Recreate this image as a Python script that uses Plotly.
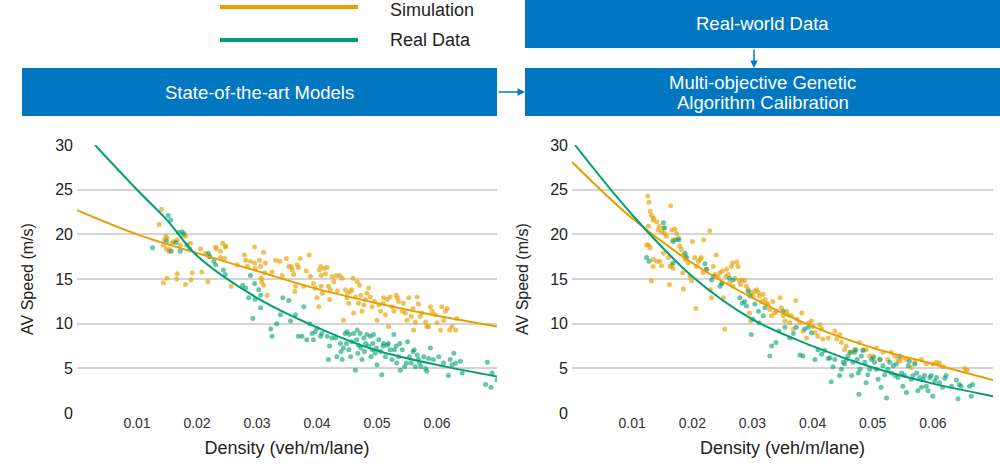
import plotly.graph_objects as go
from plotly.subplots import make_subplots

# left panel: state-of-the-art models
left_sim_x = [0.0141, 0.0137, 0.0148, 0.0146, 0.0150, 0.0144, 0.0149, 0.0154, 0.0153, 0.0158, 0.0161, 0.0167, 0.0177, 0.0181, 0.0189, 0.0172,
              0.0144, 0.0150, 0.0166, 0.0167, 0.0181, 0.0190, 0.0192, 0.0206, 0.0208, 0.0214, 0.0218, 0.0221, 0.0231, 0.0232, 0.0239, 0.0239,
              0.0243, 0.0247, 0.0246, 0.0248, 0.0257, 0.0267, 0.0279, 0.0281, 0.0284, 0.0289, 0.0296, 0.0296, 0.0297, 0.0304, 0.0306, 0.0311,
              0.0314, 0.0313, 0.0317, 0.0311, 0.0308, 0.0307, 0.0325, 0.0331, 0.0338, 0.0342, 0.0349, 0.0353, 0.0357, 0.0359, 0.0361, 0.0364,
              0.0363, 0.0367, 0.0369, 0.0372, 0.0378, 0.0382, 0.0387, 0.0389, 0.0394, 0.0397, 0.0400, 0.0403, 0.0404, 0.0406, 0.0407, 0.0407,
              0.0409, 0.0412, 0.0414, 0.0417, 0.0419, 0.0421, 0.0422, 0.0425, 0.0428, 0.0432, 0.0434, 0.0438, 0.0442, 0.0444, 0.0447, 0.0450,
              0.0451, 0.0453, 0.0456, 0.0458, 0.0460, 0.0461, 0.0464, 0.0467, 0.0469, 0.0471, 0.0473, 0.0475, 0.0478, 0.0481, 0.0483, 0.0486,
              0.0489, 0.0492, 0.0496, 0.0500, 0.0503, 0.0506, 0.0510, 0.0511, 0.0514, 0.0517, 0.0519, 0.0522, 0.0525, 0.0528, 0.0532, 0.0534,
              0.0536, 0.0542, 0.0544, 0.0547, 0.0550, 0.0553, 0.0557, 0.0560, 0.0561, 0.0564, 0.0567, 0.0569, 0.0572, 0.0575, 0.0581, 0.0583,
              0.0586, 0.0589, 0.0592, 0.0597, 0.0600, 0.0606, 0.0608, 0.0611, 0.0614, 0.0617, 0.0621, 0.0625, 0.0631, 0.0633]
left_sim_y = [22.8, 21.1, 19.8, 19.4, 19.6, 18.8, 18.4, 18.3, 18.1, 19.0, 19.2, 19.4, 19.9, 19.8, 19.0, 18.8,
              14.6, 15.1, 15.0, 15.6, 14.4, 14.9, 15.7, 18.4, 15.8, 17.9, 14.7, 17.5, 18.6, 18.4, 18.1, 17.4,
              19.0, 18.6, 17.3, 18.7, 14.2, 16.6, 17.7, 17.1, 16.4, 17.0, 18.6, 16.8, 16.2, 17.1, 16.4, 18.0,
              16.8, 15.7, 13.2, 14.3, 14.7, 15.1, 15.8, 17.1, 17.0, 15.4, 17.3, 16.4, 16.4, 16.0, 15.5, 14.2,
              13.6, 16.6, 16.3, 17.3, 14.2, 15.9, 17.7, 15.3, 14.5, 14.0, 12.9, 11.9, 16.0, 16.4, 15.4, 14.2,
              13.4, 16.2, 15.6, 16.3, 14.2, 12.7, 13.8, 15.3, 14.7, 15.4, 13.7, 15.4, 15.1, 10.4, 13.8, 12.9,
              13.4, 12.3, 13.6, 13.8, 15.1, 11.2, 13.0, 14.7, 12.3, 14.3, 13.2, 11.4, 12.1, 12.7, 13.4, 14.0,
              13.0, 11.9, 12.5, 10.4, 12.1, 11.4, 12.3, 12.9, 11.0, 12.7, 9.7, 13.0, 11.9, 11.4, 13.2, 12.9,
              12.5, 11.4, 12.3, 11.2, 10.4, 12.9, 10.8, 11.7, 9.3, 10.2, 13.0, 12.2, 10.8, 11.2, 10.2, 9.7,
              9.7, 11.9, 11.4, 11.0, 10.1, 9.3, 11.9, 10.4, 11.4, 11.7, 9.3, 9.7, 9.3, 10.6]

left_real_x = [0.0126, 0.0152, 0.0156, 0.0149, 0.0157, 0.0165, 0.0169, 0.0175, 0.0178, 0.0172, 0.0183, 0.0188, 0.0219, 0.0221, 0.0228,
               0.0231, 0.0244, 0.0247, 0.0276, 0.0281, 0.0286, 0.0289, 0.0293, 0.0296, 0.0297, 0.0303, 0.0306, 0.0306, 0.0323, 0.0325,
               0.0333, 0.0339, 0.0343, 0.0353, 0.0356, 0.0364, 0.0369, 0.0375, 0.0378, 0.0383, 0.0388, 0.0392, 0.0394, 0.0397, 0.0400,
               0.0406, 0.0408, 0.0417, 0.0419, 0.0421, 0.0425, 0.0431, 0.0433, 0.0439, 0.0440, 0.0442, 0.0444, 0.0447, 0.0449, 0.0450,
               0.0453, 0.0454, 0.0456, 0.0458, 0.0461, 0.0464, 0.0466, 0.0467, 0.0468, 0.0469, 0.0472, 0.0473, 0.0475, 0.0478, 0.0479,
               0.0481, 0.0483, 0.0486, 0.0489, 0.0490, 0.0492, 0.0493, 0.0494, 0.0497, 0.0499, 0.0500, 0.0503, 0.0506, 0.0508, 0.0510,
               0.0511, 0.0514, 0.0517, 0.0519, 0.0522, 0.0525, 0.0528, 0.0529, 0.0532, 0.0533, 0.0536, 0.0538, 0.0539, 0.0542, 0.0546,
               0.0549, 0.0551, 0.0554, 0.0557, 0.0560, 0.0562, 0.0564, 0.0567, 0.0569, 0.0571, 0.0573, 0.0578, 0.0581, 0.0583, 0.0586,
               0.0589, 0.0594, 0.0603, 0.0611, 0.0619, 0.0622, 0.0625, 0.0628, 0.0631, 0.0639, 0.0642, 0.0681, 0.0684, 0.0690, 0.0692,
               0.0700]
left_real_y = [18.5, 22.1, 21.6, 19.2, 18.1, 19.1, 20.2, 20.3, 20.1, 18.1, 18.8, 18.4, 17.9, 17.5, 17.0,
               16.6, 16.0, 15.5, 14.3, 14.0, 12.9, 15.4, 10.6, 14.5, 12.7, 13.8, 13.2, 11.8, 9.4, 8.6,
               10.0, 11.0, 12.9, 12.6, 10.3, 11.0, 8.6, 8.6, 11.9, 8.2, 10.0, 8.9, 8.2, 9.1, 9.5,
               8.6, 8.9, 8.6, 6.0, 7.5, 8.4, 8.4, 6.3, 7.8, 6.9, 6.0, 7.3, 8.9, 7.8, 9.1,
               7.1, 8.8, 6.3, 8.0, 8.9, 4.8, 8.2, 9.3, 6.7, 7.6, 8.9, 7.3, 6.0, 8.4, 6.9,
               7.8, 8.8, 7.5, 8.6, 6.3, 7.1, 7.8, 8.8, 6.7, 7.3, 5.4, 8.2, 6.9, 4.3, 7.5,
               7.8, 6.3, 7.6, 7.8, 7.1, 6.0, 8.8, 7.1, 7.5, 5.6, 6.3, 7.8, 4.8, 7.1, 5.2,
               5.6, 8.0, 6.3, 5.6, 6.9, 7.1, 5.2, 6.5, 6.0, 5.6, 5.2, 6.3, 5.0, 4.7, 6.1,
               7.3, 6.0, 6.3, 5.6, 4.2, 6.0, 5.4, 6.7, 5.6, 5.8, 4.5, 3.2, 5.7, 2.9, 4.5,
               3.7]

left_sim_fit_x = [0.0, 0.01, 0.02, 0.03, 0.04, 0.05, 0.06, 0.07]
left_sim_fit_y = [22.7, 20.0, 17.9, 15.9, 13.9, 12.3, 10.9, 9.7]
left_real_fit_x = [0.003, 0.01, 0.015, 0.02, 0.03, 0.04, 0.05, 0.06, 0.07]
left_real_fit_y = [30.0, 25.0, 21.6, 17.6, 12.9, 9.6, 7.0, 5.4, 4.1]

# right panel: calibrated with the genetic algorithm
right_sim_x = [0.0126, 0.0128, 0.0130, 0.0127, 0.0132, 0.0135, 0.0136, 0.0141, 0.0143, 0.0145, 0.0149, 0.0152, 0.0154, 0.0157, 0.0164, 0.0166,
               0.0168, 0.0171, 0.0174, 0.0124, 0.0127, 0.0130, 0.0135, 0.0132, 0.0135, 0.0141, 0.0146, 0.0149, 0.0152, 0.0160, 0.0162, 0.0163,
               0.0166, 0.0168, 0.0177, 0.0179, 0.0182, 0.0185, 0.0184, 0.0185, 0.0188, 0.0190, 0.0193, 0.0196, 0.0199, 0.0200, 0.0204, 0.0206,
               0.0207, 0.0210, 0.0213, 0.0215, 0.0218, 0.0219, 0.0223, 0.0229, 0.0230, 0.0232, 0.0235, 0.0238, 0.0240, 0.0243, 0.0246, 0.0249,
               0.0250, 0.0252, 0.0254, 0.0256, 0.0257, 0.0260, 0.0262, 0.0265, 0.0267, 0.0268, 0.0271, 0.0274, 0.0276, 0.0278, 0.0280, 0.0283,
               0.0287, 0.0290, 0.0293, 0.0295, 0.0297, 0.0298, 0.0301, 0.0304, 0.0307, 0.0310, 0.0312, 0.0315, 0.0318, 0.0321, 0.0323, 0.0326,
               0.0329, 0.0332, 0.0334, 0.0337, 0.0340, 0.0346, 0.0348, 0.0351, 0.0354, 0.0357, 0.0359, 0.0362, 0.0365, 0.0368, 0.0372, 0.0374,
               0.0379, 0.0382, 0.0384, 0.0390, 0.0394, 0.0398, 0.0401, 0.0404, 0.0409, 0.0412, 0.0415, 0.0417, 0.0426, 0.0437, 0.0440, 0.0445,
               0.0448, 0.0453, 0.0456, 0.0465, 0.0470, 0.0478, 0.0484, 0.0489, 0.0495, 0.0501, 0.0506, 0.0512, 0.0517, 0.0525, 0.0531, 0.0537,
               0.0542, 0.0545, 0.0550, 0.0556, 0.0564, 0.0570, 0.0581, 0.0589, 0.0600, 0.0606, 0.0611, 0.0617, 0.0653, 0.0657]
right_sim_y = [24.3, 23.6, 22.6, 20.9, 22.1, 21.6, 21.8, 21.4, 20.5, 20.9, 20.3, 20.7, 20.1, 19.8, 23.2, 20.5,
               19.4, 20.6, 20.1, 18.8, 18.8, 18.5, 17.2, 14.8, 16.4, 17.0, 17.0, 16.5, 17.9, 17.4, 14.4, 16.4,
               16.6, 16.2, 19.6, 18.7, 18.3, 17.7, 15.7, 13.9, 17.2, 17.5, 16.8, 15.3, 14.8, 19.2, 17.4, 11.7,
               16.4, 17.0, 17.2, 17.4, 15.7, 19.4, 16.1, 20.4, 13.8, 12.9, 16.4, 15.5, 17.7, 15.3, 15.7, 14.6,
               15.9, 12.9, 9.4, 15.3, 16.1, 15.5, 14.6, 16.4, 16.8, 14.2, 15.1, 16.9, 16.4, 14.8, 14.4, 14.9,
               14.8, 14.2, 13.8, 11.2, 10.3, 13.5, 13.1, 13.6, 13.8, 13.5, 13.1, 12.5, 13.3, 12.7, 12.3, 12.2,
               11.6, 10.9, 12.5, 11.2, 11.4, 12.9, 11.8, 10.9, 10.3, 11.4, 11.0, 10.1, 10.9, 9.4, 12.6, 10.5,
               10.1, 11.2, 9.2, 8.4, 10.1, 10.3, 9.7, 9.0, 8.6, 9.9, 9.4, 8.3, 8.4, 9.2, 8.3, 8.8,
               7.9, 7.1, 7.5, 6.8, 7.1, 7.9, 7.1, 7.1, 6.4, 6.4, 7.3, 6.0, 6.8, 6.0, 6.8, 6.4,
               6.0, 5.8, 6.2, 6.0, 5.1, 5.7, 6.0, 5.5, 5.5, 5.7, 5.6, 5.2, 5.0, 4.8]

right_real_x = [0.0124, 0.0128, 0.0152, 0.0154, 0.0168, 0.0173, 0.0178, 0.0168, 0.0188, 0.0190, 0.0221, 0.0224, 0.0232, 0.0235, 0.0246,
                0.0249, 0.0262, 0.0268, 0.0279, 0.0283, 0.0287, 0.0290, 0.0293, 0.0296, 0.0298, 0.0301, 0.0304, 0.0310, 0.0311, 0.0318,
                0.0321, 0.0329, 0.0332, 0.0339, 0.0344, 0.0351, 0.0354, 0.0362, 0.0368, 0.0373, 0.0379, 0.0384, 0.0387, 0.0393, 0.0398,
                0.0404, 0.0409, 0.0415, 0.0420, 0.0426, 0.0429, 0.0431, 0.0434, 0.0437, 0.0445, 0.0448, 0.0451, 0.0453, 0.0456, 0.0459,
                0.0462, 0.0465, 0.0467, 0.0470, 0.0472, 0.0474, 0.0476, 0.0477, 0.0479, 0.0481, 0.0484, 0.0487, 0.0489, 0.0492, 0.0495,
                0.0498, 0.0501, 0.0503, 0.0506, 0.0509, 0.0512, 0.0514, 0.0517, 0.0520, 0.0523, 0.0525, 0.0528, 0.0531, 0.0534, 0.0537,
                0.0539, 0.0542, 0.0545, 0.0548, 0.0550, 0.0553, 0.0556, 0.0559, 0.0561, 0.0564, 0.0567, 0.0570, 0.0573, 0.0575, 0.0578,
                0.0581, 0.0584, 0.0586, 0.0589, 0.0592, 0.0595, 0.0597, 0.0600, 0.0603, 0.0606, 0.0611, 0.0616, 0.0620, 0.0622, 0.0631,
                0.0639, 0.0642, 0.0644, 0.0647, 0.0661, 0.0664, 0.0666]
right_real_y = [17.4, 17.0, 21.3, 20.7, 19.2, 19.4, 19.4, 16.8, 17.9, 17.4, 16.7, 16.1, 14.9, 15.3, 14.2,
                14.5, 15.1, 14.9, 12.9, 12.3, 12.5, 12.0, 13.6, 13.1, 8.8, 10.5, 12.2, 11.4, 10.1, 10.9,
                11.8, 6.4, 7.5, 7.9, 9.2, 11.4, 9.6, 8.4, 8.9, 9.6, 6.5, 6.4, 9.4, 9.6, 9.0,
                6.0, 7.1, 6.6, 7.0, 6.1, 6.2, 3.5, 5.2, 6.0, 4.2, 4.9, 5.7, 5.5, 6.0, 6.4,
                6.8, 4.2, 5.7, 6.8, 7.1, 6.0, 4.5, 2.1, 4.9, 6.4, 7.0, 5.7, 3.4, 4.3, 4.9,
                6.0, 6.2, 5.7, 4.9, 3.8, 6.0, 2.9, 5.3, 4.3, 1.7, 4.9, 5.7, 4.5, 5.3, 4.2,
                5.5, 4.0, 6.4, 4.5, 3.0, 4.2, 2.3, 5.3, 5.8, 3.8, 4.2, 5.5, 4.5, 2.5, 4.0,
                2.9, 3.8, 4.2, 3.0, 2.5, 4.0, 4.2, 1.9, 3.6, 4.0, 3.4, 2.9, 3.9, 4.2, 3.0,
                3.7, 1.6, 3.2, 3.0, 3.0, 1.9, 3.2]

right_sim_fit_x = [0.0, 0.01, 0.02, 0.03, 0.04, 0.05, 0.06, 0.07]
right_sim_fit_y = [28.1, 21.8, 16.8, 12.9, 9.7, 7.3, 5.5, 3.7]
right_real_fit_x = [0.0005, 0.01, 0.02, 0.03, 0.04, 0.05, 0.06, 0.07]
right_real_fit_y = [30.0, 22.2, 15.3, 10.5, 7.5, 5.1, 3.3, 1.9]

x_ticks = [0.01, 0.02, 0.03, 0.04, 0.05, 0.06]
y_ticks = [0, 5, 10, 15, 20, 25, 30]

ORANGE = "rgb(230,159,0)"
GREEN = "rgb(0,158,115)"
BLUE = "#0077c0"
FONT = "Liberation Sans, Arial, sans-serif"

fig = make_subplots(rows=1, cols=2)

panels = [
    (1, left_sim_x, left_sim_y, left_real_x, left_real_y, left_sim_fit_x, left_sim_fit_y, left_real_fit_x, left_real_fit_y),
    (2, right_sim_x, right_sim_y, right_real_x, right_real_y, right_sim_fit_x, right_sim_fit_y, right_real_fit_x, right_real_fit_y),
]
for col, sx, sy, rx, ry, sfx, sfy, rfx, rfy in panels:
    fig.add_trace(go.Scatter(x=sx, y=sy, mode="markers", name="Simulation",
                             marker=dict(color=ORANGE, size=5, opacity=0.65), showlegend=False), row=1, col=col)
    fig.add_trace(go.Scatter(x=rx, y=ry, mode="markers", name="Real Data",
                             marker=dict(color=GREEN, size=5, opacity=0.6), showlegend=False), row=1, col=col)
    fig.add_trace(go.Scatter(x=sfx, y=sfy, mode="lines", line=dict(color=ORANGE, width=2, shape="spline"),
                             showlegend=False), row=1, col=col)
    fig.add_trace(go.Scatter(x=rfx, y=rfy, mode="lines", line=dict(color=GREEN, width=2, shape="spline"),
                             showlegend=False), row=1, col=col)

axis_x = dict(range=[0, 0.07], tickvals=x_ticks, ticktext=[f"{t:.2f}" for t in x_ticks], showgrid=False,
              zeroline=False, showline=False, ticks="", automargin=False, tickfont=dict(size=14, color="#333"),
              title=dict(text="Density (veh/m/lane)", font=dict(size=18, color="#222"), standoff=11))
axis_y = dict(range=[0, 30], tickvals=y_ticks, showgrid=True, gridcolor="#d4d4d4", gridwidth=1.5,
              zeroline=False, showline=False, ticks="", automargin=False, ticklabelstandoff=3,
              tickfont=dict(size=16, color="#222"),
              title=dict(text="AV Speed (m/s)", font=dict(size=16, color="#222"), standoff=17))

fig.update_xaxes(axis_x)
fig.update_yaxes(axis_y)
fig.update_layout(
    xaxis=dict(domain=[0.077, 0.497]),
    xaxis2=dict(domain=[0.572, 0.993]),
    yaxis=dict(domain=[0.121, 0.6915]),
    yaxis2=dict(domain=[0.121, 0.6915]),
)

# blue flow boxes, one annotation per text line
boxes = [
    (0.022, 0.497, 0.7532, 0.8553, ["State-of-the-art Models"]),
    (0.525, 1.0, 0.8979, 1.0, ["Real-world Data"]),
    (0.525, 1.0, 0.7532, 0.8553, ["Multi-objective Genetic", "Algorithm Calibration"]),
]
line_gap = 20 / 470
for x0, x1, y0, y1, lines in boxes:
    fig.add_shape(type="rect", xref="paper", yref="paper", x0=x0, x1=x1, y0=y0, y1=y1,
                  fillcolor=BLUE, line=dict(width=0), layer="below")
    top = (y0 + y1) / 2 + line_gap * (len(lines) - 1) / 2
    for i, line in enumerate(lines):
        fig.add_annotation(xref="paper", yref="paper", x=(x0 + x1) / 2, y=top - i * line_gap, text=line,
                           xanchor="center", yanchor="middle", showarrow=False,
                           font=dict(size=18.5, color="white", family=FONT))

# arrows between boxes
fig.add_annotation(xref="paper", yref="paper", x=0.525, y=0.8043, ax=-28, ay=0,
                   text="", showarrow=True, arrowhead=2,
                   arrowsize=1, arrowwidth=1.5, arrowcolor=BLUE)
fig.add_annotation(xref="paper", yref="paper", x=0.754, y=0.8553, ax=0, ay=-20,
                   text="", showarrow=True, arrowhead=2,
                   arrowsize=1, arrowwidth=1.5, arrowcolor=BLUE)

# legend drawn by hand
legend_items = [("Simulation", ORANGE, 0.985, 0.979), ("Real Data", GREEN, 0.915, 0.915)]
for label, color, ly, ty in legend_items:
    fig.add_shape(type="line", xref="paper", yref="paper", x0=0.220, x1=0.358, y0=ly, y1=ly,
                  line=dict(color=color, width=4))
    fig.add_annotation(xref="paper", yref="paper", x=0.388, y=ty, text=label, showarrow=False,
                       xanchor="left", yanchor="middle", font=dict(size=18, color="#222", family=FONT))

fig.update_layout(
    template="none",
    width=1000, height=470,
    margin=dict(l=0, r=0, t=0, b=0),
    paper_bgcolor="white", plot_bgcolor="white",
    font=dict(family=FONT, color="#222"),
    showlegend=False,
)

fig.write_html("out.html", config={"displayModeBar": False},
               post_script="document.body.style.margin='0';")
